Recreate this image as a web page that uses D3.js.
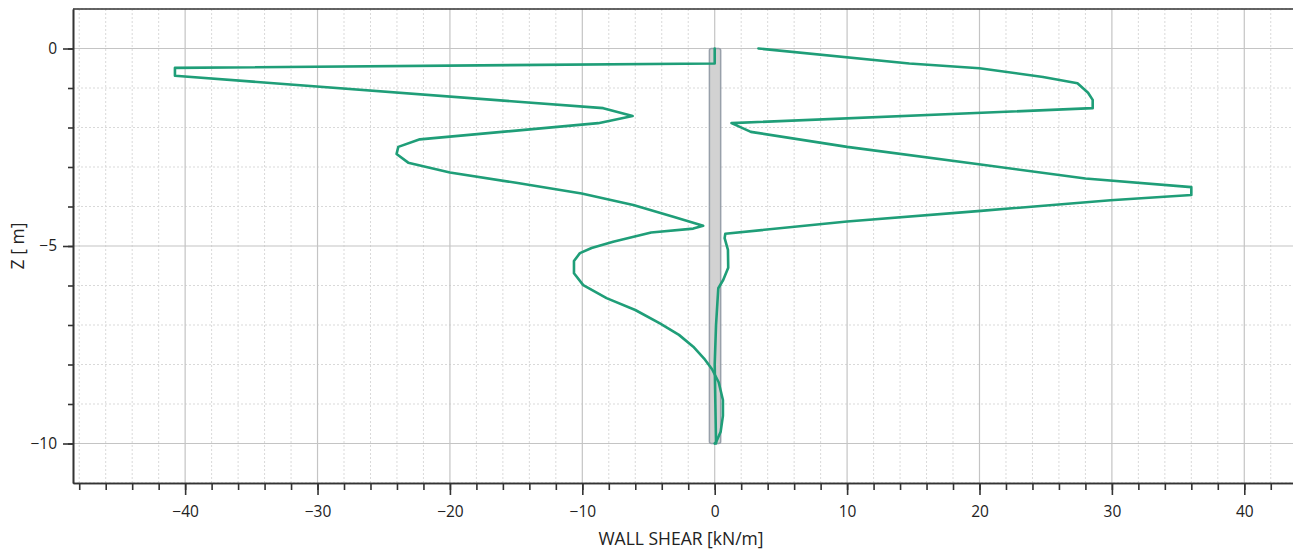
<!DOCTYPE html>
<html>
<head>
<meta charset="utf-8">
<script src="https://cdn.jsdelivr.net/npm/d3@7"></script>
<style>
  html, body { margin: 0; padding: 0; background: #fff; }
  svg { display: block; }
  text { font-family: "Segoe UI", "Open Sans", "DejaVu Sans", sans-serif; fill: #222; }
</style>
</head>
<body>
<svg id="chart" width="1293" height="550"></svg>
<script>
// ---- data ----
const xMajorTicks = [-40, -30, -20, -10, 0, 10, 20, 30, 40];
const xMinorTicks = d3.range(-48, 44, 2);
const yMajorTicks = [0, -5, -10];
const yMinorTicks = d3.range(1, -12, -1);

// curve starting at wall top, swinging to the negative side
const curveAShear = [0, 0, -40.77, -40.77, -8.42, -6.2, -8.8, -22.27, -23.9, -24.03, -23.15, -20.0, -15.0, -10.05, -6.15, -3.13, -0.87, -1.62, -4.8, -7.67, -9.3, -10.18, -10.63, -10.63, -9.93, -8.17, -6.0, -4.14, -2.7, -1.62, -0.8, -0.2, 0.3, 0.62, 0.62, 0.45, 0.1, 0.0];
const curveAZ     = [0, -0.38, -0.49, -0.69, -1.51, -1.71, -1.89, -2.30, -2.49, -2.67, -2.89, -3.14, -3.40, -3.67, -3.96, -4.26, -4.49, -4.56, -4.66, -4.89, -5.05, -5.18, -5.38, -5.69, -5.99, -6.32, -6.62, -6.96, -7.25, -7.55, -7.85, -8.12, -8.45, -8.9, -9.3, -9.7, -9.97, -10.0];

// curve starting at +3.3 on the positive side
const curveBShear = [3.3, 14.7, 20.0, 24.8, 27.4, 28.2, 28.55, 28.55, 1.27, 2.73, 10.0, 19.95, 28.0, 36.0, 36.0, 29.9, 20.1, 10.0, 0.8, 0.75, 1.0, 1.02, 0.64, 0.27, 0.1, 0.0, 0.05, 0.1];
const curveBZ     = [0, -0.38, -0.5, -0.72, -0.88, -1.12, -1.3, -1.51, -1.89, -2.11, -2.49, -2.93, -3.29, -3.51, -3.71, -3.84, -4.11, -4.38, -4.69, -4.8, -5.1, -5.55, -5.86, -6.07, -7.0, -8.0, -9.0, -10.0];

// wall extents
const wallX = [-0.4, 0.45];
const wallZ = [0, -10];

const xDomain = [-48.47, 43.68];
const yDomain = [1, -11];

// ---- layout ----
const svg = d3.select("#chart");
const L = 73, R = 1293, T = 9, B = 483;
const x = d3.scaleLinear().domain(xDomain).range([L, R]);
const y = d3.scaleLinear().domain(yDomain).range([T, B]);

// minor grid
const g = svg.append("g");
g.selectAll(".vminor").data(xMinorTicks.filter(v => !xMajorTicks.includes(v))).join("line")
  .attr("x1", d => x(d)).attr("x2", d => x(d)).attr("y1", T).attr("y2", B)
  .attr("stroke", "#d9d9d9").attr("stroke-width", 1).attr("stroke-dasharray", "2,2");
g.selectAll(".hminor").data(yMinorTicks.filter(v => !yMajorTicks.includes(v))).join("line")
  .attr("x1", L).attr("x2", R).attr("y1", d => y(d)).attr("y2", d => y(d))
  .attr("stroke", "#d9d9d9").attr("stroke-width", 1).attr("stroke-dasharray", "2,2");
// major grid
g.selectAll(".vmajor").data(xMajorTicks).join("line")
  .attr("x1", d => x(d)).attr("x2", d => x(d)).attr("y1", T).attr("y2", B)
  .attr("stroke", "#c4c4c4").attr("stroke-width", 1.2);
g.selectAll(".hmajor").data(yMajorTicks).join("line")
  .attr("x1", L).attr("x2", R).attr("y1", d => y(d)).attr("y2", d => y(d))
  .attr("stroke", "#c4c4c4").attr("stroke-width", 1.2);

// wall
svg.append("rect")
  .attr("x", x(wallX[0])).attr("width", x(wallX[1]) - x(wallX[0]))
  .attr("y", y(wallZ[0])).attr("height", y(wallZ[1]) - y(wallZ[0]))
  .attr("rx", 2).attr("fill", "#d2d2d2").attr("stroke", "#98a0aa").attr("stroke-width", 1.5);

// curves
const line = d3.line().x(d => x(d[0])).y(d => y(d[1]));
const curves = [d3.zip(curveAShear, curveAZ), d3.zip(curveBShear, curveBZ)];
svg.selectAll(".curve").data(curves).join("path")
  .attr("d", line).attr("fill", "none").attr("stroke", "#1f9e78")
  .attr("stroke-width", 2.6).attr("stroke-linejoin", "round").attr("stroke-linecap", "round");

// axes
const axColor = "#333";
function styleAxis(sel) {
  sel.selectAll("path, line").attr("stroke", axColor).attr("stroke-width", 1.6);
  sel.selectAll("text").style("font-size", "15.5px").attr("fill", "#222");
}
svg.append("g").attr("transform", `translate(${L},0)`)
  .call(d3.axisLeft(y).tickValues(yMinorTicks.filter(v => v > yDomain[1] && v < yDomain[0])).tickSize(5).tickSizeOuter(0).tickFormat(""))
  .call(styleAxis);
svg.append("g").attr("transform", `translate(${L},0)`)
  .call(d3.axisLeft(y).tickValues(yMajorTicks).tickSize(10).tickPadding(6).tickSizeOuter(0).tickFormat(d3.format("d")))
  .call(styleAxis);
svg.append("g").attr("transform", `translate(0,${B})`)
  .call(d3.axisBottom(x).tickValues(xMinorTicks).tickSize(7).tickSizeOuter(0).tickFormat(""))
  .call(styleAxis);
svg.append("g").attr("transform", `translate(0,${B})`)
  .call(d3.axisBottom(x).tickValues(xMajorTicks).tickSize(12).tickPadding(11).tickSizeOuter(0).tickFormat(d3.format("d")))
  .call(styleAxis);
// top border
svg.append("line").attr("x1", L).attr("x2", R).attr("y1", T).attr("y2", T)
  .attr("stroke", axColor).attr("stroke-width", 1.6);

// titles
svg.append("text").attr("x", 681).attr("y", 545).attr("text-anchor", "middle")
  .style("font-size", "17.5px").text("WALL SHEAR [kN/m]");
svg.append("text").attr("transform", "translate(24,246) rotate(-90)").attr("text-anchor", "middle")
  .style("font-size", "17.5px").text("Z [ m]");
</script>
</body>
</html>
